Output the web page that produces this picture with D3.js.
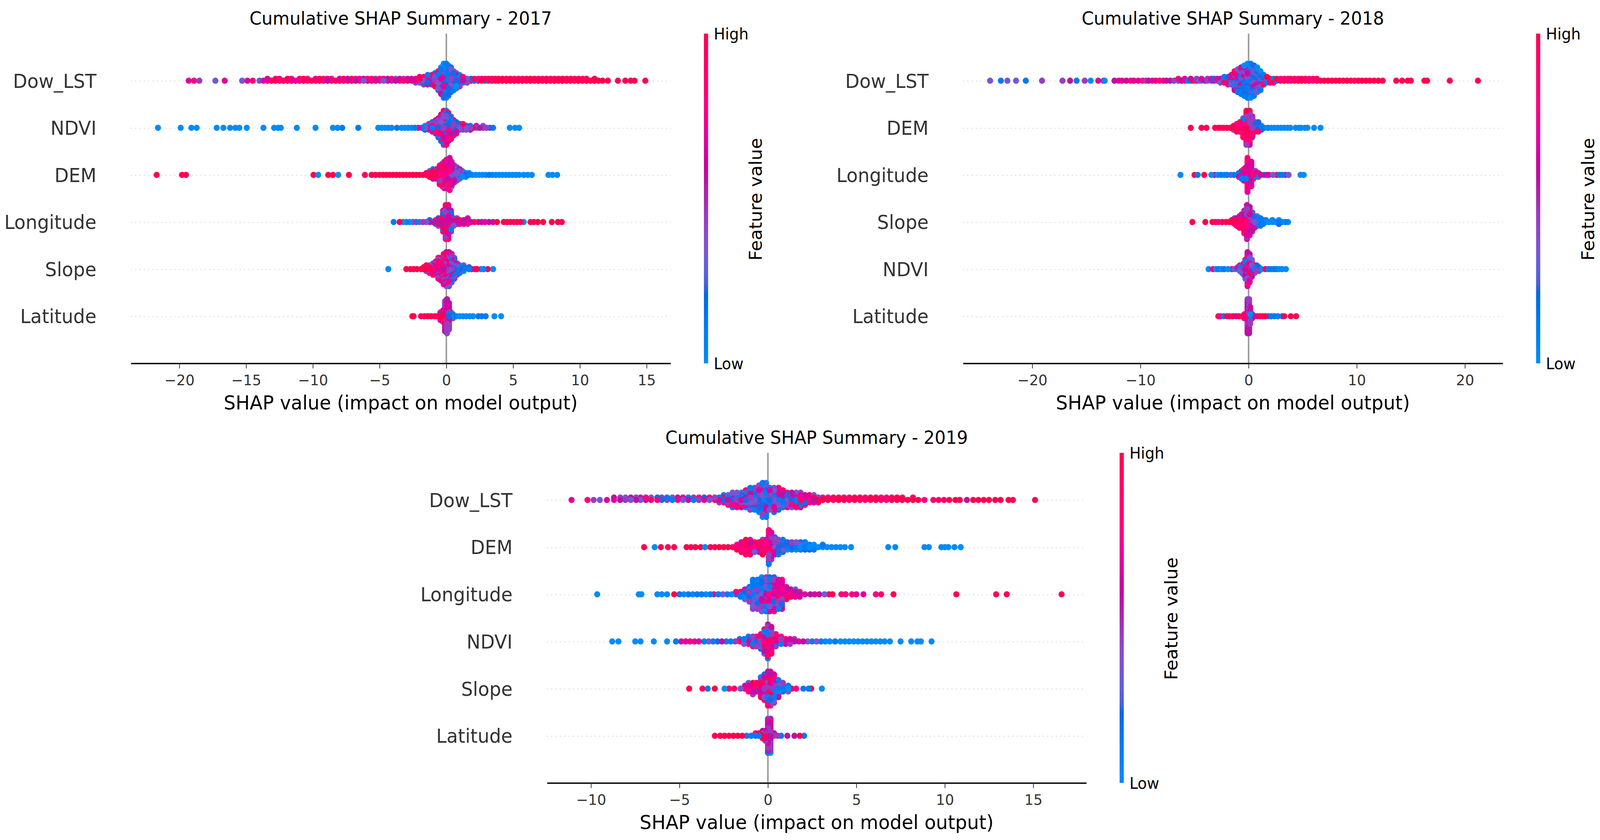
<!DOCTYPE html>
<html>
<head>
<meta charset="utf-8">
<script src="https://cdn.jsdelivr.net/npm/d3@7"></script>
<style>
  html, body { margin: 0; padding: 0; background: #fff; overflow: hidden; width: 100%; height: 100%; }
  #chart { width: 100vw; height: 100vh; }
  svg { display: block; width: 100%; height: 100%; font-family: "DejaVu Sans", sans-serif; }
</style>
</head>
<body>
<div id="chart"></div>
<script>
// each row is a list of [SHAP value, feature values]; one digit per sample, 0 = low ... 9 = high
const features2017 = ["Dow_LST", "NDVI", "DEM", "Longitude", "Slope", "Latitude"];
const features2018 = ["Dow_LST", "DEM", "Longitude", "Slope", "NDVI", "Latitude"];
const features2019 = ["Dow_LST", "DEM", "Longitude", "NDVI", "Slope", "Latitude"];

const ticks2017 = [-20, -15, -10, -5, 0, 5, 10, 15];
const ticks2018 = [-20, -10, 0, 10, 20];
const ticks2019 = [-10, -5, 0, 5, 10, 15];

const dow2017 = [[-19.3,"6"],[-18.9,"7"],[-18.5,"4"],[-17.3,"3"],[-16.6,"6"],[-15.3,"3"],[-14.9,"6"],[-14.5,"8"],[-14,"3"],[-13.7,"6"],[-13.4,"76"],[-13.1,"8"],[-12.8,"98"],[-12.5,"87"],[-12.2,"8"],[-11.9,"79"],[-11.6,"86"],[-11.3,"6"],[-11,"78"],[-10.7,"89"],[-10.4,"87"],[-10.1,"9"],[-9.8,"86"],[-9.5,"89"],[-9.2,"67"],[-8.9,"58"],[-8.6,"87"],[-8.3,"9"],[-8,"86"],[-7.7,"89"],[-7.4,"65"],[-7.1,"98"],[-6.8,"57"],[-6.5,"86"],[-6.2,"35"],[-5.9,"57"],[-5.6,"98"],[-5.3,"64"],[-5,"47"],[-4.7,"36"],[-4.4,"65"],[-4.1,"47"],[-3.8,"53"],[-3.5,"76"],[-3.2,"84"],[-2.9,"56"],[-2.6,"95"],
  [-2.3,"683"],[-2,"4936"],[-1.7,"35284"],[-1.4,"462851"],[-1.1,"316527"],[-.85,"41736291"],[-.6,"25316147382"],[-.4,"163524172391405"],[-.2,"3172416053124130201"],[0,"2416305172134020110"],[.15,"31425016237141201"],[.35,"14263152041312"],[.55,"25314162031"],[.75,"351426031"],[1,"2531604"],[1.25,"5317"],[1.55,"734"],[1.85,"82"],[2.1,"18"],[2.4,"87"],[2.65,"96"],[2.9,"18"],[3.15,"89"],[3.4,"98"],[3.65,"99"],[3.9,"98"],[4.2,"99"],[4.5,"98"],[4.8,"99"],[5.1,"98"],[5.4,"99"],[5.7,"98"],[6,"89"],[6.3,"99"],[6.6,"98"],[6.9,"99"],[7.2,"98"],[7.5,"99"],[7.8,"98"],[8.1,"99"],[8.4,"98"],[8.7,"99"],[9,"98"],[9.3,"99"],[9.6,"98"],[9.9,"99"],[10.2,"98"],[10.5,"99"],[10.8,"9"],[11.1,"99"],[11.4,"9"],[11.7,"9"],[12.1,"9"],[12.85,"9"],[13.4,"9"],[13.8,"9"],[14.1,"9"],[14.9,"9"]];

const ndvi2017 = [[-21.6,"0"],[-19.9,"0"],[-19.1,"0"],[-18.7,"0"],[-17.2,"0"],[-16.7,"0"],[-16.2,"0"],[-15.8,"0"],[-15.5,"0"],[-14.95,"0"],[-13.7,"0"],[-12.9,"0"],[-12.6,"0"],[-12.4,"0"],[-11.2,"0"],[-9.8,"0"],[-8.5,"0"],[-8.15,"0"],[-7.8,"1"],[-6.6,"1"],[-5.1,"0"],[-4.85,"0"],[-4.6,"0"],[-4.35,"0"],[-4.1,"0"],[-3.7,"1"],[-3.35,"0"],[-3.1,"0"],[-2.85,"0"],[-2.6,"0"],[-2.35,"1"],[-2.1,"6"],[-1.85,"1"],[-1.6,"302"],
  [-1.3,"6147"],[-1.05,"176381"],[-.8,"63817425"],[-.6,"25716384162"],[-.4,"371853642716951"],[-.2,"4716382951637418294"],[0,"6273184596137264819"],[.15,"5372618491637258"],[.35,"4261735182936"],[.55,"351426378"],[.75,"2431526"],[1,"3142"],[1.25,"5138"],[1.5,"324"],[1.8,"415"],[2,"9"],[2.25,"36"],[2.5,"5"],[2.75,"43"],[3,"4"],[3.25,"2"],[3.5,"1"],[4.75,"0"],[5.15,"0"],[5.45,"0"]];

const dem2017 = [[-21.7,"9"],[-19.8,"9"],[-19.5,"9"],[-9.95,"9"],[-9.6,"0"],[-8.85,"9"],[-8.5,"9"],[-8.1,"0"],[-7.3,"9"],[-6.1,"8"],[-5.6,"9"],[-5.3,"9"],[-5,"9"],[-4.75,"9"],[-4.5,"9"],[-4.25,"9"],[-4,"9"],[-3.75,"9"],[-3.5,"9"],[-3.25,"9"],[-3,"9"],[-2.75,"9"],[-2.5,"9"],[-2.25,"9"],[-2,"9"],[-1.75,"9"],[-1.5,"98"],[-1.25,"9893"],
  [-1,"878951"],[-.75,"898758"],[-.5,"87958647978"],[-.3,"7689586976847"],[-.15,"687958697856476"],[0,"6574869576847656"],[.1,"4678568756475678"],[.25,"564736547658467576"],[.4,"34564536475634"],[.6,"4354635243"],[.8,"33425434"],[1,"132435"],[1.2,"2301"],[1.45,"201"],[1.7,"10"],[1.95,"0"],[2.2,"0"],[2.45,"0"],[2.7,"0"],[2.95,"0"],[3.2,"1"],[3.45,"0"],[3.7,"0"],[3.95,"0"],[4.2,"0"],[4.45,"0"],[4.7,"0"],[4.95,"0"],[5.2,"0"],[5.45,"0"],[5.8,"0"],[6.1,"0"],[6.4,"0"],[7.65,"0"],[7.95,"0"],[8.3,"0"]];

const lon2017 = [[-3.95,"1"],[-3.5,"9"],[-3.25,"0"],[-3,"1"],[-2.75,"0"],[-2.5,"4"],[-2.25,"1"],[-2,"3"],[-1.75,"4"],[-1.5,"3"],[-1.25,"51"],[-1,"5"],[-.8,"382"],[-.6,"56923"],[-.4,"7158"],[-.25,"517683921476"],[-.05,"7651863964837596487"],[.15,"6875968649786587698"],[.35,"657486951275"],[.55,"87613"],[.8,"5964"],[1,"786"],[1.3,"568"],[1.6,"7546"],[1.85,"6"],[2.1,"8"],[2.4,"5"],[2.65,"6"],[2.9,"6"],[3.2,"5"],[3.5,"6"],[3.8,"9"],[4.3,"9"],[4.55,"9"],[4.8,"9"],[5.05,"8"],[5.3,"9"],[5.55,"9"],[5.8,"0"],[6.3,"9"],[6.55,"9"],[6.85,"9"],[7.25,"9"],[7.9,"9"],[8.35,"9"],[8.65,"9"]];

const slope2017 = [[-4.35,"0"],[-3,"9"],[-2.7,"9"],[-2.45,"9"],[-2.2,"9"],[-1.9,"9"],[-1.7,"98"],[-1.5,"9849"],[-1.25,"96837"],[-1,"7659847"],[-.8,"68495736"],[-.6,"687596487359"],[-.4,"5768495736846"],[-.2,"56748359476849576"],[0,"4536784524637586453"],[.2,"3524635241635746352"],[.4,"4253142635241436"],[.6,"231425314253"],[.8,"1324152"],[1,"21301"],[1.3,"1203"],[1.7,"12"],[1.9,"5"],[2.15,"9"],[2.3,"9"],[2.6,"0"],[2.8,"1"],[3.1,"9"],[3.5,"0"]];

const lat2017 = [[-2.55,"9"],[-2.45,"9"],[-1.9,"8"],[-1.65,"9"],[-1.4,"9"],[-1.15,"9"],[-.9,"8"],[-.7,"9"],[-.45,"95876"],[-.25,"9846857"],[-.1,"87546584645454545"],[.05,"0135464546454545454"],[.2,"215465454545454"],[.35,"0144"],[.5,"103"],[.75,"0"],[1,"0"],[1.25,"0"],[1.5,"0"],[1.75,"0"],[2,"0"],[2.4,"1"],[2.65,"1"],[2.95,"1"],[3.6,"0"],[4.1,"0"]];

const dow2018 = [[-23.9,"3"],[-22.9,"1"],[-22.3,"3"],[-21.5,"3"],[-20.6,"1"],[-19.1,"4"],[-17.2,"4"],[-16.5,"5"],[-15.9,"1"],[-15.15,"4"],[-14.6,"0"],[-13.9,"6"],[-13.4,"5"],[-13.3,"0"],[-12.4,"5"],[-12,"6"],[-11.7,"6"],[-11.3,"5"],[-10.9,"7"],[-10.6,"6"],[-10.2,"6"],[-9.8,"7"],[-9.5,"4"],[-9.25,"5"],[-8.9,"6"],[-8.6,"6"],[-8.25,"7"],[-7.9,"7"],[-7.6,"5"],[-7.25,"5"],[-6.9,"4"],[-6.5,"37"],[-6.2,"5"],[-5.9,"86"],[-5.6,"1"],[-5.35,"15"],[-5.1,"8"],[-4.8,"84"],[-4.55,"3"],[-4.35,"36"],[-4,"5"],[-3.8,"34"],[-3.45,"46"],[-3.2,"52"],[-2.9,"46"],[-2.6,"153"],[-2.25,"5381"],[-1.9,"54726"],
  [-1.6,"451736"],[-1.3,"27153416385"],[-1,"1425361748231"],[-.7,"241351621324151"],[-.4,"13241526132415201"],[-.1,"0213142516231415201"],[.2,"1021324153142130210"],[.5,"21314251632413021"],[.8,"31425163124130"],[1.1,"24135241301"],[1.4,"314281"],[1.7,"7419"],[2,"198"],[2.3,"718"],[2.6,"19"],[2.95,"87"],[3.3,"98"],[3.65,"97"],[3.9,"58"],[4.25,"98"],[4.6,"97"],[4.9,"89"],[5.25,"98"],[5.6,"97"],[5.95,"78"],[6.3,"68"],[6.65,"9"],[7,"9"],[7.35,"9"],[7.7,"9"],[8.05,"9"],[8.4,"9"],[8.75,"9"],[9.1,"9"],[9.45,"9"],[9.8,"8"],[10.15,"9"],[10.5,"9"],[10.85,"9"],[11.2,"9"],[11.6,"9"],[12,"9"],[12.4,"9"],[13.65,"9"],[14.2,"9"],[14.7,"9"],[15,"9"],[16.25,"9"],[16.5,"9"],[18.6,"9"],[21.2,"9"]];

const dem2018 = [[-5.35,"9"],[-4.35,"9"],[-3.9,"9"],[-3.1,"9"],[-2.8,"9"],[-2.55,"8"],[-2.3,"9"],[-2,"9"],[-1.7,"9"],[-1.4,"983"],[-1.1,"98479"],[-.8,"894768"],[-.5,"87956481739"],[-.2,"8497586395847689594"],[.1,"7365948476358479586"],[.35,"436152738425"],[.6,"315274"],[.9,"241382"],[1.2,"102"],[1.5,"0"],[1.8,"1"],[2.1,"0"],[2.4,"0"],[2.7,"0"],[3,"0"],[3.3,"0"],[3.6,"0"],[3.85,"0"],[4.35,"0"],[4.65,"0"],[4.85,"0"],[5.2,"0"],[5.45,"0"],[6.05,"0"],[6.65,"0"]];

const lon2018 = [[-6.3,"0"],[-5,"9"],[-4.7,"1"],[-4.1,"9"],[-3.45,"0"],[-3.15,"5"],[-2.85,"0"],[-2.55,"1"],[-2.25,"0"],[-2,"1"],[-1.65,"3"],[-1.35,"1"],[-.9,"815"],[-.65,"62371"],[-.45,"7617386"],[-.25,"67261739"],[-.1,"6776867576876778676"],[.1,"7668767857687"],[.25,"76577868767676"],[.45,"73627"],[.65,"7614"],[.9,"763"],[1.15,"5"],[1.45,"1"],[1.7,"6"],[1.9,"8"],[2.25,"3"],[2.6,"9"],[2.85,"1"],[3.1,"1"],[3.4,"5"],[3.7,"3"],[4.8,"0"],[5.1,"0"]];

const slope2018 = [[-5.2,"9"],[-4,"9"],[-3.35,"9"],[-3.05,"8"],[-2.8,"7"],[-2.45,"9"],[-2.1,"9"],[-1.8,"9"],[-1.55,"99"],[-1.3,"9984"],[-1.1,"99857"],[-.85,"9875968"],[-.65,"89749586"],[-.4,"8596748594857"],[-.15,"7596857465465465465"],[.1,"5465746556545565"],[.35,"23514263524"],[.55,"3142519"],[.8,"131420"],[1.1,"01210"],[1.35,"101"],[1.6,"01"],[1.9,"0"],[2.2,"01"],[2.5,"0"],[2.8,"102"],[3.1,"0"],[3.4,"1"],[3.65,"0"]];

const ndvi2018 = [[-3.7,"0"],[-3.3,"7"],[-3,"0"],[-2.75,"1"],[-2.5,"0"],[-2.25,"1"],[-1.9,"0"],[-1.55,"8"],[-1.3,"3"],[-1,"16"],[-.8,"4138"],[-.6,"35241"],[-.45,"4631573"],[-.3,"53647251673"],[-.1,"5647384597364836756"],[.1,"4735961748536475"],[.3,"2153648953"],[.55,"13254"],[.75,"0241"],[.95,"021"],[1.2,"0"],[1.55,"8"],[1.85,"1"],[2.1,"0"],[2.35,"1"],[2.6,"1"],[2.85,"0"],[3.1,"0"],[3.45,"0"]];

const lat2018 = [[-2.8,"8"],[-2.6,"7"],[-2.3,"1"],[-2,"9"],[-1.75,"8"],[-1.45,"9"],[-1.15,"5"],[-.9,"9"],[-.6,"8"],[-.4,"876"],[-.2,"851"],[-.1,"4546454545454554545"],[.05,"5464545464545454545"],[.15,"1045454645"],[.35,"145"],[.55,"5"],[.8,"9"],[1.05,"9"],[1.3,"8"],[1.55,"9"],[1.85,"1"],[2.1,"1"],[2.4,"1"],[2.7,"1"],[3.1,"1"],[3.3,"9"],[3.9,"9"],[4.4,"9"]];

const dow2019 = [[-11.1,"6"],[-10.2,"7"],[-9.85,"4"],[-9.5,"3"],[-9.1,"6"],[-8.7,"65"],[-8.35,"54"],[-8.05,"43"],[-7.75,"35"],[-7.45,"54"],[-7.2,"36"],[-6.9,"57"],[-6.6,"83"],[-6.25,"72"],[-6,"24"],[-5.7,"41"],[-5.4,"13"],[-5.1,"75"],[-4.8,"36"],[-4.5,"51"],[-4.2,"14"],[-3.9,"47"],[-3.6,"62"],[-3.3,"38"],[-3,"84"],
  [-2.75,"614"],[-2.5,"2871"],[-2.25,"51437"],[-2,"2614731"],[-1.75,"4152637"],[-1.5,"6142735"],[-1.25,"25316416"],[-1,"1435263141"],[-.75,"3142516314"],[-.5,"241315261403"],[-.3,"021324152031410"],[-.1,"102431526314201"],[.1,"2413152631"],[.35,"31425163841"],[.6,"1524361729"],[.85,"24153618"],[1.1,"3152476"],[1.35,"2614753"],[1.6,"1524637"],[1.85,"8726145"],[2.1,"96258"],[2.35,"7689"],[2.6,"5963"],[2.85,"948"],[3.1,"98"],[3.4,"97"],[3.7,"89"],[4,"98"],[4.3,"97"],[4.6,"89"],[4.9,"98"],[5.2,"89"],[5.5,"87"],[5.8,"89"],[6.1,"98"],[6.4,"87"],[6.7,"78"],[7,"98"],[7.3,"99"],[7.6,"98"],[7.9,"9"],[8.2,"98"],[8.5,"9"],[8.85,"7"],[9.35,"8"],[9.65,"8"],[9.95,"8"],[10.25,"9"],[10.6,"9"],[10.85,"9"],[11.25,"5"],[11.6,"9"],[11.9,"9"],[12.2,"9"],[12.5,"9"],[12.85,"9"],[13.15,"9"],[13.6,"9"],[13.85,"9"],[15.1,"9"]];

const dem2019 = [[-7,"9"],[-6.4,"0"],[-6.05,"9"],[-5.65,"9"],[-5.3,"9"],[-4.6,"9"],[-4.35,"9"],[-4.1,"9"],[-3.8,"9"],[-3.55,"0"],[-3.25,"9"],[-3,"9"],[-2.75,"9"],[-2.5,"9"],[-2.25,"9"],[-2,"8"],[-1.75,"979"],[-1.5,"98769"],[-1.25,"8976598"],[-1,"6895878"],[-.75,"79683"],[-.5,"86985"],[-.3,"5978649"],[-.1,"846795"],[.05,"758697465647581"],[.2,"647583645746"],[.4,"35746352"],[.6,"2435241"],[.85,"123421"],[1.1,"1302"],[1.35,"2314"],[1.6,"1203"],[1.85,"0312"],[2.1,"1021"],[2.35,"012"],[2.6,"101"],[2.85,"0"],[3.1,"01"],[3.35,"0"],[3.6,"0"],[3.85,"0"],[4.1,"0"],[4.35,"0"],[4.7,"0"],[6.8,"0"],[7.2,"0"],[8.85,"0"],[9.1,"0"],[9.8,"0"],[10,"0"],[10.2,"0"],[10.55,"0"],[10.9,"0"]];

const lon2019 = [[-9.65,"0"],[-7.3,"0"],[-7.15,"0"],[-6.25,"0"],[-6,"0"],[-5.7,"0"],[-5.3,"9"],[-5,"1"],[-4.75,"0"],[-4.5,"1"],[-4.25,"0"],[-4,"1"],[-3.75,"1"],[-3.5,"0"],[-3.25,"1"],[-3.05,"7"],[-2.8,"1"],[-2.55,"3"],[-2.3,"1"],[-2.05,"0"],[-1.8,"27"],[-1.55,"191"],[-1.3,"12063"],[-1.05,"1420314"],[-.85,"1302413120314"],[-.6,"2134153120314"],[-.35,"314251637241303"],[-.1,"524163742513041"],[.1,"736251674831625"],[.35,"674637263754627"],[.6,"7686574637261"],[.8,"6857463726576"],[1.05,"768596"],[1.3,"7695"],[1.55,"8563"],[1.8,"576"],[2.1,"6"],[2.4,"5"],[2.65,"6"],[2.9,"5"],[3.2,"3"],[3.45,"9"],[3.65,"9"],[4.15,"7"],[4.4,"7"],[4.75,"7"],[5,"6"],[5.4,"6"],[6.1,"7"],[6.4,"8"],[7.1,"9"],[10.65,"9"],[12.9,"9"],[13.5,"9"],[16.6,"9"]];

const ndvi2019 = [[-8.8,"0"],[-8.45,"0"],[-7.5,"0"],[-7.2,"0"],[-6.45,"0"],[-5.7,"0"],[-5.2,"1"],[-4.9,"6"],[-4.65,"6"],[-4.4,"7"],[-4.15,"6"],[-3.9,"6"],[-3.6,"1"],[-3.35,"3"],[-3.1,"1"],[-2.85,"2"],[-2.6,"5"],[-2.35,"1"],[-2.1,"1"],[-1.85,"4"],[-1.6,"81"],[-1.35,"813"],[-1.1,"5271"],[-.85,"38147"],[-.65,"26184"],[-.4,"4718362"],[-.2,"75968471593"],[0,"948571627394851"],[.2,"895164738295"],[.45,"691748"],[.75,"8417"],[1,"685"],[1.25,"764"],[1.5,"54"],[1.75,"6"],[2,"5"],[2.25,"3"],[2.5,"1"],[2.75,"3"],[3,"1"],[3.25,"0"],[3.5,"0"],[3.8,"1"],[4.1,"0"],[4.35,"0"],[4.6,"0"],[4.85,"0"],[5.1,"0"],[5.35,"0"],[5.6,"0"],[5.85,"0"],[6.1,"0"],[6.35,"0"],[6.6,"0"],[6.9,"0"],[7.5,"0"],[8.1,"0"],[8.45,"0"],[8.65,"0"],[9.25,"0"]];

const slope2019 = [[-4.45,"9"],[-3.7,"8"],[-3.4,"1"],[-3,"9"],[-2.45,"0"],[-2.2,"8"],[-1.9,"8"],[-1.55,"3"],[-1.3,"85"],[-1.1,"9673"],[-.85,"85694"],[-.65,"7958"],[-.4,"59786491"],[-.2,"4857693582"],[0,"5473681924657"],[.15,"4536971825364"],[.35,"24153817364"],[.6,"1302415"],[.85,"1324"],[1.15,"013"],[1.35,"8"],[1.6,"7"],[2,"1"],[2.3,"1"],[2.45,"9"],[3.05,"0"]];

const lat2019 = [[-3,"9"],[-2.7,"9"],[-2.45,"9"],[-2.2,"9"],[-1.95,"9"],[-1.7,"9"],[-1.45,"9"],[-1.2,"1"],[-.95,"1"],[-.7,"19"],[-.5,"19"],[-.3,"9485"],[-.15,"84564"],[0,"545454654546541"],[.15,"545645454546450"],[.35,"45"],[.55,"4"],[.75,"1"],[1.1,"5"],[1.5,"5"],[1.8,"9"],[2.05,"1"]];

const rows2017 = [dow2017, ndvi2017, dem2017, lon2017, slope2017, lat2017];
const rows2018 = [dow2018, dem2018, lon2018, slope2018, ndvi2018, lat2018];
const rows2019 = [dow2019, dem2019, lon2019, ndvi2019, slope2019, lat2019];

// SHAP red_blue colormap
const cmapStops = [0, .13, .21, .24, .29, .37, .45, .52, .6, .67, .78, 1];
const cmapColors = ["#008bfb", "#0078f2", "#0068e8", "#4a60e0", "#6060e0", "#8450d0", "#9a3cc0", "#b020a8", "#c800a0", "#e000a0", "#ff0080", "#ff0051"];
const cmap = d3.scaleLinear().domain(cmapStops).range(cmapColors);

const panels = [
  { title: "Cumulative SHAP Summary - 2017", features: features2017, rows: rows2017, ticks: ticks2017,
    domain: [-23.63, 16.8], left: 346, right: 1773, top: 86, bottom: 930 },
  { title: "Cumulative SHAP Summary - 2018", features: features2018, rows: rows2018, ticks: ticks2018,
    domain: [-26.4, 23.5], left: 2546, right: 3973, top: 86, bottom: 930 },
  { title: "Cumulative SHAP Summary - 2019", features: features2019, rows: rows2019, ticks: ticks2019,
    domain: [-12.49, 18], left: 1446, right: 2872, top: 1159, bottom: 2004 }
];

// the window can be narrower than the 4230 wide figure, so stretch the drawing to fill it
const svg = d3.select("#chart").append("svg")
  .attr("viewBox", "0 0 4230 2150")
  .attr("preserveAspectRatio", "none");

const defs = svg.append("defs");
const grad = defs.append("linearGradient")
  .attr("id", "barGrad")
  .attr("x1", 0).attr("y1", 1).attr("x2", 0).attr("y2", 0);
grad.selectAll("stop")
  .data(cmapStops)
  .enter()
  .append("stop")
  .attr("offset", d => d)
  .attr("stop-color", d => cmap(d));

panels.forEach(p => {
  const g = svg.append("g");
  const x = d3.scaleLinear().domain(p.domain).range([p.left, p.right]);
  const y = d3.scaleLinear().domain([-1, 6]).range([p.bottom, p.top]);
  const rowOf = i => p.features.length - 1 - i;

  // dotted row guides
  g.selectAll("line.guide")
    .data(p.features)
    .enter()
    .append("line")
    .attr("class", "guide")
    .attr("x1", p.left).attr("x2", p.right)
    .attr("y1", (d, i) => y(rowOf(i)) + 1).attr("y2", (d, i) => y(rowOf(i)) + 1)
    .attr("stroke", "#cccccc")
    .attr("stroke-width", 2)
    .attr("stroke-dasharray", "2.5 9");

  // zero line
  g.append("line")
    .attr("x1", x(0)).attr("x2", x(0))
    .attr("y1", p.top).attr("y2", p.bottom)
    .attr("stroke", "#999999")
    .attr("stroke-width", 4);

  // beeswarm, stacked the way shap does: level 0, +1, -1, +2, -2 ...
  p.rows.forEach((row, i) => {
    const counts = row.map(c => c[1].length);
    const maxLevel = Math.ceil((d3.max(counts) - 1) / 2);
    const step = maxLevel > 0 ? 0.36 * Math.abs(y(0) - y(1)) / maxLevel : 0;
    const pts = [];
    row.forEach(c => {
      Array.from(c[1]).forEach((f, layer) => {
        const level = Math.ceil(layer / 2) * (layer % 2 ? 1 : -1);
        pts.push({ v: c[0], f: +f, level: level });
      });
    });
    // paint order is mixed so no column sits on top of its neighbour
    const order = d3.range(pts.length).sort((a, b) => (a * 7919) % pts.length - (b * 7919) % pts.length);
    g.append("g").selectAll("circle")
      .data(order.map(k => pts[k]))
      .enter()
      .append("circle")
      .attr("cx", d => x(d.v))
      .attr("cy", d => y(rowOf(i)) - d.level * step)
      .attr("r", 8)
      .attr("fill", d => cmap(d.f / 9));
  });

  // feature names
  g.selectAll("text.feature")
    .data(p.features)
    .enter()
    .append("text")
    .attr("class", "feature")
    .attr("x", p.left - 91)
    .attr("y", (d, i) => y(rowOf(i)) + 18)
    .attr("text-anchor", "end")
    .attr("font-size", 49)
    .attr("fill", "#333333")
    .text(d => d);

  // x axis
  const axis = g.append("g")
    .attr("transform", `translate(0,${p.bottom})`)
    .call(d3.axisBottom(x).tickValues(p.ticks).tickSize(13).tickSizeOuter(0)
      .tickFormat(d => String(d).replace("-", "\u2212")));
  axis.select(".domain").attr("stroke", "#000").attr("stroke-width", 3.5);
  axis.selectAll(".tick line").attr("stroke", "#333333").attr("stroke-width", 2);
  axis.selectAll(".tick text")
    .attr("y", 56).attr("dy", 0)
    .attr("font-size", 37.7)
    .attr("font-family", "DejaVu Sans")
    .attr("fill", "#333333");

  g.append("text")
    .attr("x", (p.left + p.right) / 2)
    .attr("y", p.bottom + 118)
    .attr("text-anchor", "middle")
    .attr("font-size", 49.6)
    .attr("fill", "#000")
    .text("SHAP value (impact on model output)");

  g.append("text")
    .attr("x", (p.left + p.right) / 2)
    .attr("y", p.top - 23)
    .attr("text-anchor", "middle")
    .attr("font-size", 46)
    .attr("fill", "#000")
    .text(p.title);

  // colour bar
  const barX = p.right + 88;
  g.append("rect")
    .attr("x", barX).attr("y", p.top)
    .attr("width", 11).attr("height", p.bottom - p.top)
    .attr("fill", "url(#barGrad)");
  g.append("text").attr("x", barX + 26).attr("y", p.top + 15)
    .attr("font-size", 40).attr("fill", "#000").text("High");
  g.append("text").attr("x", barX + 26).attr("y", p.bottom + 15)
    .attr("font-size", 40).attr("fill", "#000").text("Low");
  g.append("text")
    .attr("transform", `translate(${barX + 153},${(p.top + p.bottom) / 2 + 2}) rotate(-90)`)
    .attr("text-anchor", "middle")
    .attr("font-size", 46)
    .attr("fill", "#000")
    .text("Feature value");
});
</script>
</body>
</html>
